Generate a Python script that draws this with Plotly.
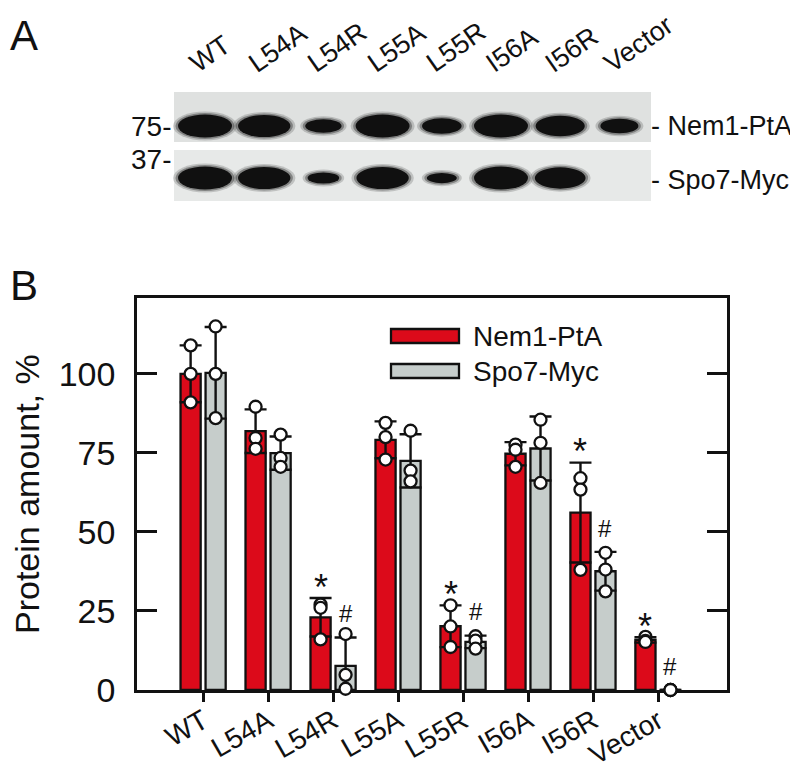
import numpy as np
import plotly.graph_objects as go

W, H = 798, 769
FONT = "Liberation Sans, Arial, sans-serif"

categories = ["WT", "L54A", "L54R", "L55A", "L55R", "I56A", "I56R", "Vector"]

# individual measurements (3 per strain), % of WT
nem1_points = [
    [109, 100, 91],
    [89.6, 79.7, 76.3],
    [27, 26, 16],
    [84.5, 80, 72.9],
    [26.8, 20.1, 13.6],
    [77.6, 76, 70.6],
    [67, 63.4, 38],
    [16.8, 15.5, 15.2],
]
spo7_points = [
    [115, 100, 86],
    [80.8, 73.4, 70.6],
    [17.7, 4.8, 0.4],
    [82, 69.4, 66],
    [17, 15.6, 13.1],
    [85.5, 78.2, 65.5],
    [43.4, 38.1, 31.2],
    [0, 0, 0],
]

# significance marks
nem1_sig = [False, False, True, False, True, False, True, True]
spo7_sig = [False, False, True, False, True, False, True, True]

# western blot band intensities (0..1)
nem1_band = [1.0, 0.95, 0.45, 1.0, 0.55, 1.0, 0.85, 0.5]
spo7_band = [1.0, 0.95, 0.3, 0.95, 0.25, 1.0, 0.9, 0.0]

y_ticks = [0, 25, 50, 75, 100]

RED = "#dc0a1a"
GRAY = "#c6cdcb"
INK = "#111111"


def px(x):
    return x / W


def py(y):
    return 1 - y / H


nem1_mean = np.array([np.mean(p) for p in nem1_points])
nem1_sd = np.array([np.std(p, ddof=1) for p in nem1_points])
spo7_mean = np.array([np.mean(p) for p in spo7_points])
spo7_sd = np.array([np.std(p, ddof=1) for p in spo7_points])

idx = np.arange(len(categories))
OFF_R, OFF_G, BW = -0.195, 0.19, 0.31

fig = go.Figure()

for mean, sd, off, col, name in [
    (nem1_mean, nem1_sd, OFF_R, RED, "Nem1-PtA"),
    (spo7_mean, spo7_sd, OFF_G, GRAY, "Spo7-Myc"),
]:
    fig.add_trace(go.Bar(
        x=idx + off,
        y=mean,
        width=BW,
        name=name,
        marker=dict(color=col, line=dict(color=INK, width=2.3)),
        error_y=dict(type="data", array=sd, color=INK,
                     thickness=2.4, width=11),
        showlegend=False,
    ))

for pts, off in [(nem1_points, OFF_R), (spo7_points, OFF_G)]:
    xs, ys = [], []
    for i, p in enumerate(pts):
        for v in p:
            xs.append(i + off)
            ys.append(v)
    fig.add_trace(go.Scatter(
        x=xs, y=ys, mode="markers",
        marker=dict(size=12, color="white", line=dict(color=INK, width=2.3)),
        cliponaxis=False,
        showlegend=False,
    ))

# significance marks
for i in idx:
    if nem1_sig[i]:
        fig.add_annotation(x=i + OFF_R, y=nem1_mean[i] + nem1_sd[i] + 3.4,
                           text="*", showarrow=False, yanchor="middle",
                           font=dict(size=36, color=INK, family=FONT))
    if spo7_sig[i]:
        fig.add_annotation(x=i + OFF_G, y=spo7_mean[i] + spo7_sd[i] + 7.5,
                           text="#", showarrow=False, yanchor="middle",
                           font=dict(size=24, color=INK, family=FONT))

# legend (drawn by hand: wide swatches)
for k, (col, name) in enumerate([(RED, "Nem1-PtA"), (GRAY, "Spo7-Myc")]):
    y0 = 321 + 35 * k
    fig.add_shape(type="rect", xref="paper", yref="paper",
                  x0=px(383), x1=px(451), y0=py(y0), y1=py(y0 + 14),
                  fillcolor=col, line=dict(color=INK, width=2.3))
    fig.add_annotation(xref="paper", yref="paper", x=px(463), y=py(y0 + 7),
                       text=name, showarrow=False, xanchor="left",
                       yanchor="middle", font=dict(size=28, color=INK, family=FONT))

# y title
fig.add_annotation(xref="paper", yref="paper", x=px(19), y=py(486),
                   text="Protein amount, %", textangle=-90, showarrow=False,
                   xanchor="center", yanchor="middle",
                   font=dict(size=34, color=INK, family=FONT))

# ---------------- panel A: blot ----------------
lane_x = [197 + 59.2 * i for i in idx]

for y0, y1, bg in [(84, 134, "#dfe1e0"), (142, 193, "#e7e9e8")]:
    fig.add_shape(type="rect", xref="paper", yref="paper",
                  x0=px(166), x1=px(643), y0=py(y0), y1=py(y1),
                  fillcolor=bg, line=dict(width=0), layer="below")

for bands, yc in [(nem1_band, 118), (spo7_band, 170)]:
    for cx, inten in zip(lane_x, bands):
        if inten <= 0:
            continue
        w = 22 + 32 * inten
        h = 6 + 17 * inten
        for grow, op in [(10, 0.18), (5, 0.35), (0, 1.0)]:
            fig.add_shape(type="circle", xref="paper", yref="paper",
                          x0=px(cx - (w + grow) / 2), x1=px(cx + (w + grow) / 2),
                          y0=py(yc - (h + grow * 0.6) / 2), y1=py(yc + (h + grow * 0.6) / 2),
                          fillcolor="#101010", opacity=op, line=dict(width=0))

LANE_FS = 27
for cx, lab in zip(lane_x, categories):
    fig.add_annotation(xref="paper", yref="paper",
                       x=px(cx - 5 - 0.69 * LANE_FS), y=py(73),
                       text=lab, textangle=-35, showarrow=False,
                       xanchor="left", yanchor="bottom",
                       font=dict(size=LANE_FS, color=INK, family=FONT))

for lab, yc in [("75-", 118), ("37-", 152)]:
    fig.add_annotation(xref="paper", yref="paper", x=px(165), y=py(yc),
                       text=lab, showarrow=False, xanchor="right", yanchor="middle",
                       font=dict(size=28, color=INK, family=FONT))

for lab, yc in [("- Nem1-PtA", 118), ("- Spo7-Myc", 172)]:
    fig.add_annotation(xref="paper", yref="paper", x=px(641), y=py(yc),
                       text=lab, showarrow=False, xanchor="left", yanchor="middle",
                       font=dict(size=27, color=INK, family=FONT))

for lab, yt in [("A", 2), ("B", 252)]:
    fig.add_annotation(xref="paper", yref="paper", x=px(0), y=py(yt),
                       text=lab, showarrow=False, xanchor="left", yanchor="top",
                       font=dict(size=42, color=INK, family=FONT))

fig.update_layout(
    width=W, height=H,
    margin=dict(l=0, r=0, t=0, b=0),
    paper_bgcolor="white", plot_bgcolor="white",
    barmode="overlay",
    font=dict(family=FONT, color=INK),
    xaxis=dict(
        domain=[px(129), px(719)],
        range=[-1.02, 8.06],
        tickvals=idx, ticktext=categories, tickangle=-30,
        tickfont=dict(size=28),
        ticks="outside", ticklen=9, tickwidth=2.5, tickcolor=INK,
        ticklabelstandoff=-8,
        showline=True, linewidth=2.5, linecolor=INK, mirror=True,
        showgrid=False, zeroline=False, layer="below traces",
        automargin=False,
    ),
    yaxis=dict(
        domain=[py(682), py(290)],
        range=[0, 124],
        tickvals=y_ticks,
        tickfont=dict(size=34),
        ticks="inside", ticklen=20, tickwidth=2.5, tickcolor=INK,
        ticklabelstandoff=12,
        showline=True, linewidth=2.5, linecolor=INK, mirror="ticks",
        showgrid=False, zeroline=False, layer="below traces",
        automargin=False,
    ),
)

fig.write_html("out.html")
